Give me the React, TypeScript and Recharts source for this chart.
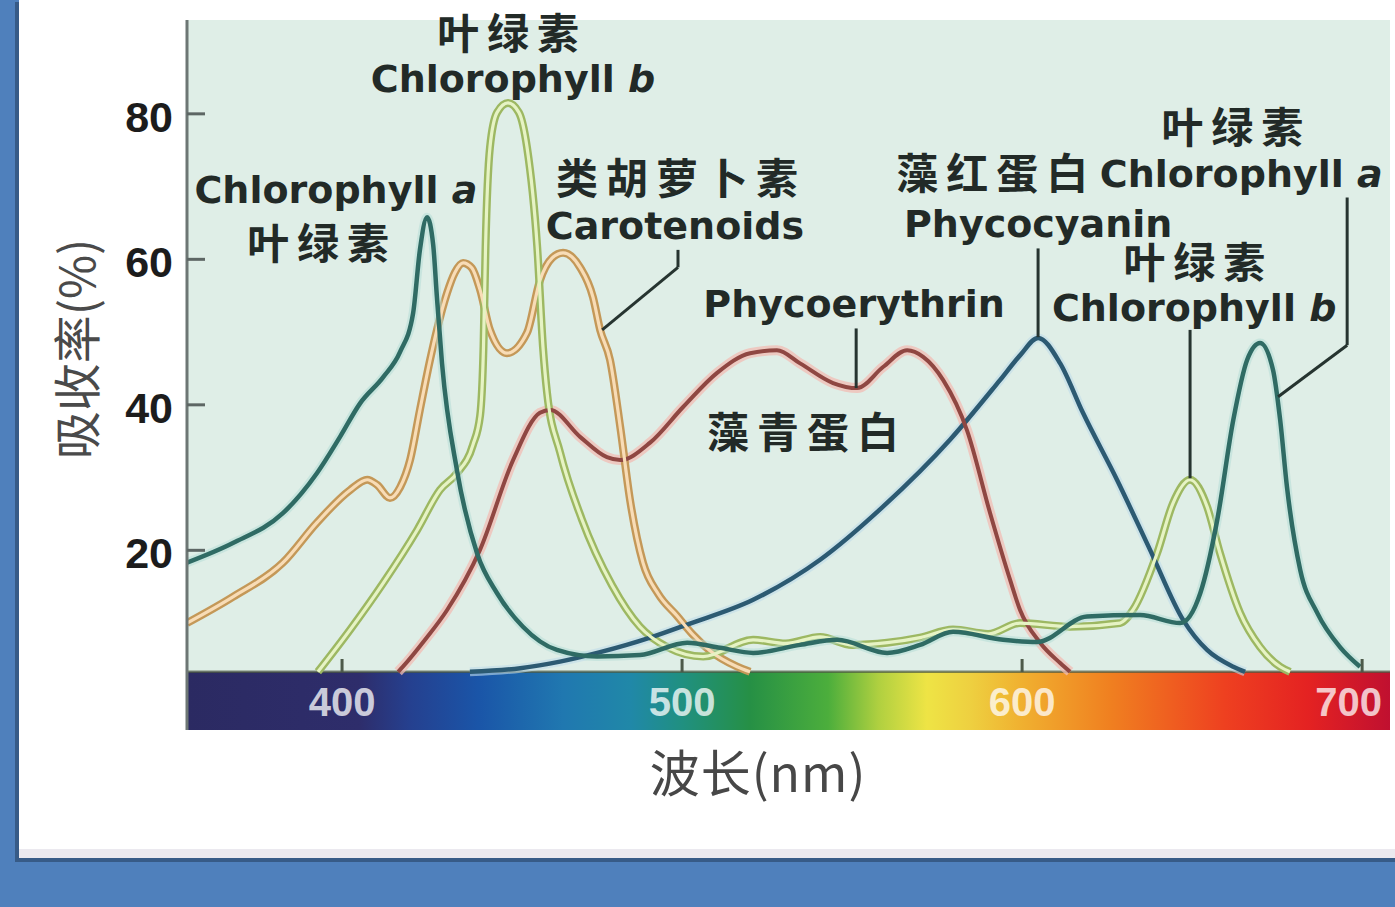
import React from "react";
import {
  LineChart,
  Line,
  XAxis,
  YAxis,
  CartesianGrid,
  ReferenceArea,
  ReferenceLine,
  ReferenceDot,
} from "recharts";

// absorption spectra, [wavelength nm, absorbance %]
const chlorophyllA: [number, number][] = [
  [354.4, 18.3], [367.9, 21.0], [382.6, 25.1], [392.6, 30.6], [399.4, 35.6],
  [405.3, 40.2], [412.1, 43.8], [417.1, 47.3], [420.9, 52.6], [422.9, 61.3],
  [425.0, 65.8], [426.8, 62.0], [427.9, 54.8], [429.4, 45.7], [433.8, 31.0],
  [439.7, 19.6], [445.6, 14.1], [453.2, 9.5], [463.2, 6.3], [475.0, 5.4],
  [487.6, 5.6], [501.5, 7.3], [511.2, 6.6], [520.9, 5.9], [534.7, 7.0],
  [545.6, 7.7], [560.3, 5.9], [570.0, 7.0], [579.7, 8.8], [594.4, 7.7],
  [604.4, 7.4], [619.1, 10.9], [634.7, 11.1], [646.5, 10.0], [652.4, 14.1],
  [657.4, 24.2], [662.1, 37.9], [666.2, 46.2], [670.0, 48.5], [673.8, 44.8],
  [675.9, 37.9], [677.9, 28.7], [681.8, 17.3], [686.8, 11.4], [693.5, 6.7],
  [699.4, 4.0],
];

const chlorophyllB: [number, number][] = [
  [392.9, 3.3], [402.4, 9.1], [412.1, 15.5], [422.1, 22.8], [428.8, 28.3],
  [433.8, 30.6], [438.5, 34.5], [440.6, 38.5], [441.6, 48.0], [442.2, 61.7],
  [443.5, 75.4], [445.6, 80.2], [448.8, 81.5], [452.0, 80.2], [454.4, 75.4],
  [457.4, 61.7], [459.1, 47.9], [460.3, 41.6], [464.1, 33.5], [470.5, 24.3],
  [479.4, 15.2], [487.6, 9.5], [495.6, 6.7], [506.2, 5.4], [520.9, 7.7],
  [530.5, 7.2], [540.6, 8.1], [550.0, 7.0], [560.3, 7.3], [570.0, 8.0],
  [579.7, 9.1], [590.0, 8.5], [599.4, 10.0], [614.1, 9.5], [628.8, 10.0],
  [632.6, 11.8], [639.7, 19.6], [644.4, 26.5], [649.4, 29.7], [654.4, 26.0],
  [658.2, 19.6], [664.1, 11.4], [670.0, 6.7], [675.9, 4.0], [678.8, 3.3],
];

const carotenoids: [number, number][] = [
  [354.4, 10.0], [367.9, 13.6], [382.6, 18.3], [392.6, 23.8], [402.4, 28.3],
  [407.4, 29.7], [410.3, 29.0], [414.1, 27.2], [417.1, 28.7], [420.0, 32.4],
  [422.9, 39.3], [425.9, 46.2], [427.9, 50.3], [430.9, 55.4], [433.2, 58.2],
  [435.6, 59.5], [438.2, 58.8], [440.6, 55.8], [443.5, 50.3], [448.5, 47.1],
  [454.4, 49.9], [458.2, 57.1], [461.8, 60.2], [465.0, 60.9], [470.0, 58.9],
  [473.8, 54.8], [475.9, 50.3], [478.8, 46.2], [481.8, 37.0], [484.7, 26.9],
  [488.5, 18.3], [493.0, 14.0], [498.5, 11.0], [503.0, 8.5], [508.2, 6.2],
  [516.2, 4.0], [520.0, 3.3],
];

const phycoerythrin: [number, number][] = [
  [416.5, 3.3], [417.9, 4.0], [424.4, 7.7], [430.9, 11.8], [440.6, 20.1],
  [450.3, 32.4], [458.2, 38.9], [461.2, 39.3], [470.0, 35.6], [477.9, 32.8],
  [481.8, 32.4], [490.6, 34.8], [500.3, 39.7], [510.3, 44.4], [520.0, 47.1],
  [527.9, 47.5], [534.7, 45.7], [544.4, 43.0], [551.5, 42.3], [559.1, 45.2],
  [566.2, 47.5], [570.9, 46.6], [576.8, 43.4], [583.8, 36.5], [590.6, 25.1],
  [596.5, 15.9], [599.4, 11.8], [605.3, 7.3], [611.2, 4.5], [614.1, 3.3],
];

const phycocyanin: [number, number][] = [
  [437.6, 3.3], [452.4, 3.8], [464.1, 4.7], [475.9, 6.0], [490.6, 8.0],
  [501.5, 9.8], [520.9, 13.2], [540.6, 18.7], [559.1, 26.0], [578.8, 35.2],
  [593.5, 43.4], [599.4, 46.8], [604.7, 49.2], [611.2, 45.7], [617.9, 38.9],
  [627.9, 29.7], [637.6, 20.1], [647.4, 10.4], [654.4, 6.3], [662.1, 4.0],
  [665.6, 3.3],
];

const xTicks = [400, 500, 600, 700];
const yTicks = [20, 40, 60, 80];
const xDomain: [number, number] = [354.4, 708.2];
const yDomain: [number, number] = [-4.7, 92.9];
const spectrumTop = 3.3;

// annotation blocks: anchored (first line centre) at [nm, %], further lines offset in px
type NoteLine = { t: string; it?: string; zh?: boolean; dx?: number; dy?: number };
const notes: { nm: number; v: number; lines: NoteLine[] }[] = [
  { nm: 448.8, v: 91.1, lines: [{ t: "叶绿素", zh: true }, { t: "Chlorophyll ", it: "b", dx: 5, dy: 45 }] },
  { nm: 398.2, v: 69.7, lines: [{ t: "Chlorophyll ", it: "a" }, { t: "叶绿素", zh: true, dx: -18, dy: 54 }] },
  { nm: 498.5, v: 71.2, lines: [{ t: "类胡萝卜素", zh: true }, { t: "Carotenoids", dx: -2, dy: 47 }] },
  { nm: 550.6, v: 54.0, lines: [{ t: "Phycoerythrin" }] },
  { nm: 535.6, v: 36.3, lines: [{ t: "藻青蛋白", zh: true }] },
  { nm: 591.2, v: 71.9, lines: [{ t: "藻红蛋白", zh: true }, { t: "Phycocyanin", dx: 46, dy: 50 }] },
  { nm: 661.8, v: 78.2, lines: [{ t: "叶绿素", zh: true }, { t: "Chlorophyll ", it: "a", dx: 9, dy: 46 }] },
  { nm: 650.6, v: 59.6, lines: [{ t: "叶绿素", zh: true }, { t: "Chlorophyll ", it: "b", dx: 0, dy: 45 }] },
];

// pointer lines from labels to curves
const leaders: [number, number][][] = [
  [[498.8, 61.3], [498.8, 58.9]],
  [[498.8, 58.9], [476.5, 50.3]],
  [[551.2, 50.5], [551.2, 42.3]],
  [[604.7, 61.5], [604.7, 49.3]],
  [[649.4, 50.3], [649.4, 29.9]],
  [[695.6, 68.5], [695.6, 48.2]],
  [[695.6, 48.2], [675.3, 41.1]],
];

const toPoints = (arr: [number, number][]) => arr.map(([nm, v]) => ({ nm, v }));

const series = [
  { name: "phycocyanin", data: toPoints(phycocyanin), outer: "#bfdcea", outerW: 9, outerO: 0.6, inner: "#2c5a72", innerW: 4.5 },
  { name: "phycoerythrin", data: toPoints(phycoerythrin), outer: "#f2bcb4", outerW: 10, outerO: 0.75, inner: "#8f4742", innerW: 4 },
  { name: "carotenoids", data: toPoints(carotenoids), outer: "#c49858", outerW: 8, outerO: 1, inner: "#f8dcb6", innerW: 3.2 },
  { name: "chlorophyllB", data: toPoints(chlorophyllB), outer: "#9db862", outerW: 8, outerO: 1, inner: "#e6f3c4", innerW: 3.2 },
  { name: "chlorophyllA", data: toPoints(chlorophyllA), outer: "#b2dcd6", outerW: 9, outerO: 0.5, inner: "#2f6b64", innerW: 4.5 },
];

const spectrumStops: [number, string][] = [
  [0, "#2b2a62"], [0.143, "#2e2d6b"], [0.185, "#25408f"], [0.242, "#1a55a8"],
  [0.313, "#2078b0"], [0.369, "#2088a8"], [0.412, "#209080"], [0.468, "#269045"],
  [0.533, "#4cae3c"], [0.575, "#b0d040"], [0.615, "#eee445"], [0.651, "#eed040"],
  [0.694, "#f0b030"], [0.767, "#f08020"], [0.863, "#ee4020"], [0.932, "#e42222"],
  [1, "#c01030"],
];

const enFont = "'DejaVu Sans', Verdana, sans-serif";
const zhFont = "'Noto Sans CJK SC', 'Noto Sans', sans-serif";

const XTick = (props: any) => {
  const { x, y, payload, index } = props;
  const last = index === xTicks.length - 1;
  return (
    <g>
      <line x1={x} x2={x} y1={y - 58} y2={y - 71} stroke="#4d5a4a" strokeWidth={3} />
      <text
        x={last ? x + 20 : x}
        y={y - 14}
        textAnchor={last ? "end" : "middle"}
        fill="#ffffff"
        fillOpacity={0.75}
        fontFamily="'Liberation Sans', Arial, sans-serif"
        fontWeight={700}
        fontSize={40}
      >
        {payload.value}
      </text>
    </g>
  );
};

const YTick = (props: any) => {
  const { x, y, payload } = props;
  return (
    <g>
      <line x1={x} x2={x + 18} y1={y} y2={y} stroke="#5d6664" strokeWidth={3} />
      <text
        x={x - 14}
        y={y + 18}
        textAnchor="end"
        fill="#1c1c1c"
        fontFamily="'Liberation Sans', Arial, sans-serif"
        fontWeight={700}
        fontSize={43}
      >
        {payload.value}
      </text>
    </g>
  );
};

const noteShape = (lines: NoteLine[]) => (props: any) => (
  <g>
    {lines.map((l, i) => (
      <text
        key={i}
        x={props.cx + (l.dx || 0) + (l.zh ? 4 : 0)}
        y={props.cy + (l.dy || 0) + (l.zh ? 16 : 14)}
        textAnchor="middle"
        fill="#222a27"
        fontWeight={700}
        fontFamily={l.zh ? zhFont : enFont}
        fontSize={l.zh ? 42 : 38}
        letterSpacing={l.zh ? 8 : 0}
      >
        {l.t}
        {l.it && <tspan fontStyle="italic">{l.it}</tspan>}
      </text>
    ))}
  </g>
);

export default function App() {
  return (
    <div
      style={{
        position: "absolute",
        left: 0,
        top: 0,
        width: 1395,
        height: 907,
        background: "#4f80bc",
        overflow: "hidden",
      }}
    >
      <div style={{ position: "absolute", left: 15, top: 2, width: 4, height: 860, background: "#375b87" }} />
      <div style={{ position: "absolute", left: 19, top: 0, width: 1376, height: 849, background: "#ffffff" }} />
      <div style={{ position: "absolute", left: 19, top: 849, width: 1376, height: 9, background: "#ebe9ef" }} />
      <div style={{ position: "absolute", left: 15, top: 858, width: 1380, height: 4, background: "#375b87" }} />

      <div style={{ position: "absolute", left: 0, top: 0 }}>
        <LineChart width={1395} height={907} margin={{ top: 20, right: 5, bottom: 97, left: 0 }}>
          <defs>
            <linearGradient id="spectrum" x1="0" y1="0" x2="1" y2="0">
              {spectrumStops.map(([o, c]) => (
                <stop key={o} offset={o} stopColor={c} />
              ))}
            </linearGradient>
          </defs>
          <CartesianGrid horizontal={false} vertical={false} fill="#dfeee7" fillOpacity={1} />
          <ReferenceArea
            x1={xDomain[0]}
            x2={xDomain[1]}
            y1={yDomain[0]}
            y2={spectrumTop}
            fill="url(#spectrum)"
            fillOpacity={1}
            stroke="none"
            ifOverflow="visible"
          />
          <ReferenceLine y={spectrumTop} stroke="#4b5842" strokeWidth={2.5} strokeOpacity={0.7} />
          <XAxis
            type="number"
            dataKey="nm"
            domain={xDomain}
            ticks={xTicks}
            allowDataOverflow
            axisLine={false}
            tickLine={false}
            tickSize={0}
            tickMargin={0}
            height={80}
            interval={0}
            tick={XTick}
          />
          <YAxis
            type="number"
            domain={yDomain}
            ticks={yTicks}
            allowDataOverflow
            width={187}
            axisLine={{ stroke: "#6d7674", strokeWidth: 3 }}
            tickLine={false}
            tickSize={0}
            tickMargin={0}
            interval={0}
            tick={YTick}
          />
          {series.map((s) => (
            <Line
              key={s.name + "-outer"}
              data={s.data}
              dataKey="v"
              type="monotone"
              stroke={s.outer}
              strokeWidth={s.outerW}
              strokeOpacity={s.outerO}
              dot={false}
              activeDot={false}
              isAnimationActive={false}
            />
          ))}
          {series.map((s) => (
            <Line
              key={s.name + "-inner"}
              data={s.data}
              dataKey="v"
              type="monotone"
              stroke={s.inner}
              strokeWidth={s.innerW}
              dot={false}
              activeDot={false}
              isAnimationActive={false}
            />
          ))}
          {leaders.map((seg, i) => (
            <ReferenceLine
              key={"leader" + i}
              segment={[
                { x: seg[0][0], y: seg[0][1] },
                { x: seg[1][0], y: seg[1][1] },
              ]}
              stroke="#263430"
              strokeWidth={3}
            />
          ))}
          {notes.map((n, i) => (
            <ReferenceDot
              key={"note" + i}
              x={n.nm}
              y={n.v}
              r={0}
              ifOverflow="visible"
              shape={noteShape(n.lines)}
            />
          ))}
        </LineChart>
      </div>

      <div
        style={{
          position: "absolute",
          left: 758,
          top: 744,
          transform: "translateX(-50%)",
          fontFamily: zhFont,
          fontSize: 50,
          lineHeight: "52px",
          color: "#474747",
          whiteSpace: "nowrap",
          letterSpacing: 1,
        }}
      >
        波长(nm)
      </div>
      <div
        style={{
          position: "absolute",
          left: 74,
          top: 349,
          transform: "translate(-50%, -50%) rotate(-90deg)",
          fontFamily: zhFont,
          fontSize: 48,
          lineHeight: "52px",
          color: "#4a4a4a",
          whiteSpace: "nowrap",
        }}
      >
        吸收率(%)
      </div>
    </div>
  );
}
